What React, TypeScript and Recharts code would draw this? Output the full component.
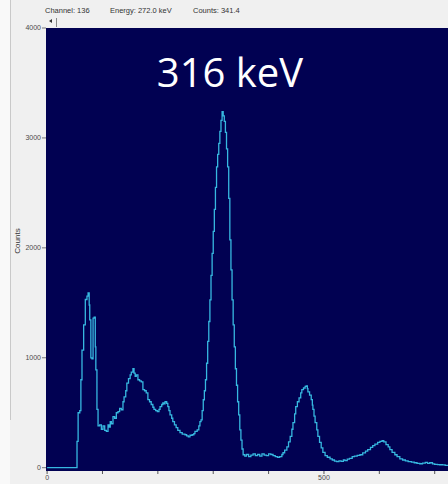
import { LineChart, Line, XAxis, YAxis, ReferenceArea } from "recharts";

// [channel, counts] pairs
const spectrum: [number, number][] = [
  [0, 0], [52, 0], [54, 240], [56, 500], [59, 520], [61, 800], [63, 1070], [66, 1300], [69, 1530],
  [72, 1560], [74, 1590], [76, 1480], [77, 1345], [79, 1000], [81, 990], [83, 1360], [85, 1370],
  [87, 1100], [88, 890], [90, 530], [92, 380], [95, 390], [98, 350], [101, 380], [104, 340],
  [107, 330], [110, 390], [112, 370], [114, 420], [116, 400], [119, 465], [122, 450], [125, 500],
  [128, 510], [131, 540], [134, 527], [137, 600], [139, 645], [142, 700], [144, 770], [147, 810],
  [150, 845], [152, 870], [155, 900], [157, 860], [159, 830], [161, 845], [164, 800], [167, 790],
  [170, 780], [173, 710], [176, 700], [179, 680], [182, 620], [185, 600], [188, 575], [191, 550],
  [193, 530], [196, 520], [199, 510], [202, 530], [204, 555], [207, 575], [209, 590], [211, 580],
  [213, 600], [216, 585], [218, 555], [220, 520], [222, 480], [225, 450], [227, 420], [230, 390],
  [233, 365], [236, 340], [240, 320], [244, 305], [249, 300], [252, 290], [255, 280], [258, 295],
  [262, 300], [265, 310], [267, 330], [269, 330], [271, 345], [274, 380], [276, 420], [278, 436],
  [280, 520], [282, 618], [284, 700], [286, 800], [288, 950], [290, 1150], [292, 1330], [294, 1527],
  [296, 1750], [298, 1950], [300, 2150], [302, 2350], [304, 2550], [306, 2736], [308, 2850], [310, 2950],
  [312, 3060], [314, 3160], [316, 3240], [318, 3200], [320, 3150], [322, 3050], [324, 2900], [326, 2736],
  [328, 2450], [330, 2073], [332, 1800], [334, 1527], [336, 1300], [338, 1100], [340, 900], [342, 750],
  [344, 600], [346, 480], [348, 345], [350, 250], [352, 170], [354, 118], [357, 105], [360, 120],
  [364, 100], [368, 115], [372, 125], [376, 110], [380, 120], [384, 105], [388, 125], [392, 115],
  [396, 110], [400, 125], [404, 120], [408, 110], [412, 100], [416, 95], [420, 100], [424, 120],
  [426, 136], [429, 160], [433, 190], [436, 235], [439, 285], [442, 350], [444, 410], [447, 490],
  [449, 555], [452, 600], [455, 635], [458, 680], [460, 710], [463, 725], [466, 740], [468, 745],
  [470, 720], [471, 690], [474, 660], [477, 620], [479, 570], [480, 530], [482, 470], [484, 410],
  [487, 345], [489, 285], [492, 230], [495, 180], [498, 140], [502, 110], [506, 95], [511, 80],
  [515, 70], [519, 60], [523, 55], [527, 62], [531, 58], [535, 70], [538, 65], [542, 78],
  [546, 85], [551, 100], [555, 105], [560, 112], [565, 118], [570, 135], [575, 150], [579, 165],
  [584, 185], [588, 200], [592, 215], [597, 230], [601, 240], [605, 245], [608, 235], [612, 210],
  [616, 190], [619, 165], [623, 140], [628, 118], [632, 100], [637, 80], [642, 70], [647, 62],
  [652, 55], [658, 50], [663, 45], [668, 40], [673, 36], [678, 42], [683, 48], [687, 40],
  [691, 45], [696, 35], [700, 30], [705, 28], [709, 27], [714, 25], [719, 22], [724, 20],
];

const xTicks = [0, 100, 200, 300, 400, 500, 600, 700];
const xLabelled = [0, 500];
const yTicks = [0, 1000, 2000, 3000, 4000];

const cursorInfo = ["Channel: 136", "Energy: 272.0 keV", "Counts: 341.4"];
const peakLabel = "316 keV";

const NAVY = "#010152";
const TRACE = "#37b8e0";
const tickStyle = { fill: "#4a4a4a", stroke: "none", fontSize: 7, fontFamily: "Liberation Sans, Arial, sans-serif" };

export default function App() {
  const data = spectrum.map(([ch, counts]) => ({ ch, counts }));
  return (
    <div
      style={{
        position: "absolute",
        left: 0,
        top: 0,
        width: 448,
        height: 484,
        overflow: "hidden",
        background: "#f0f0f0",
      }}
    >
      {/* window edge strip on the left */}
      <div style={{ position: "absolute", left: 0, top: 0, width: 10, height: 484, background: "#f9f9f9" }} />
      <div style={{ position: "absolute", left: 10, top: 0, width: 1, height: 420, background: "#c9c9c9" }} />
      <LineChart
        width={448}
        height={484}
        data={data}
        margin={{ top: 28, right: 0, bottom: 0, left: 0 }}
        style={{ position: "absolute", left: 0, top: 0 }}
      >
        <ReferenceArea x1={-2} x2={724} y1={-30} y2={4000} fill={NAVY} fillOpacity={1} stroke="none" ifOverflow="visible" />
        <XAxis
          type="number"
          dataKey="ch"
          domain={[-2, 724]}
          ticks={xTicks}
          tickFormatter={(v: number) => (xLabelled.includes(v) ? String(v) : "")}
          allowDataOverflow
          height={13}
          tickSize={3}
          tickMargin={1}
          axisLine={false}
          tickLine={{ stroke: "#555" }}
          tick={tickStyle}
        />
        <YAxis
          type="number"
          domain={[-30, 4000]}
          ticks={yTicks}
          allowDataOverflow
          width={46}
          tickSize={4}
          tickMargin={1}
          axisLine={false}
          tickLine={{ stroke: "#777" }}
          tick={tickStyle}
        />
        <Line
          type="stepAfter"
          dataKey="counts"
          stroke={TRACE}
          strokeWidth={1.3}
          dot={false}
          isAnimationActive={false}
        />
      </LineChart>
      <svg width={448} height={484} style={{ position: "absolute", left: 0, top: 0, pointerEvents: "none" }}>
        <g fontFamily="Liberation Sans, Arial, sans-serif" fontSize={7.5} fill="#333">
          <text x={45} y={13}>{cursorInfo[0]}</text>
          <text x={110} y={13}>{cursorInfo[1]}</text>
          <text x={193} y={13}>{cursorInfo[2]}</text>
        </g>
        <path d="M49 21 L52 19 L52 23 Z" fill="#333" />
        <line x1={56.5} y1={18} x2={56.5} y2={27} stroke="#888" strokeWidth={1} />
        <text
          x={18}
          y={241}
          transform="rotate(-90 18 241)"
          textAnchor="middle"
          dominantBaseline="middle"
          fontFamily="Liberation Sans, Arial, sans-serif"
          fontSize={8}
          fill="#333"
        >
          Counts
        </text>
        <text
          x={230}
          y={87}
          textAnchor="middle"
          fontFamily="Open Sans, sans-serif"
          fontSize={40}
          fill="#ffffff"
        >
          {peakLabel}
        </text>
      </svg>
    </div>
  );
}
